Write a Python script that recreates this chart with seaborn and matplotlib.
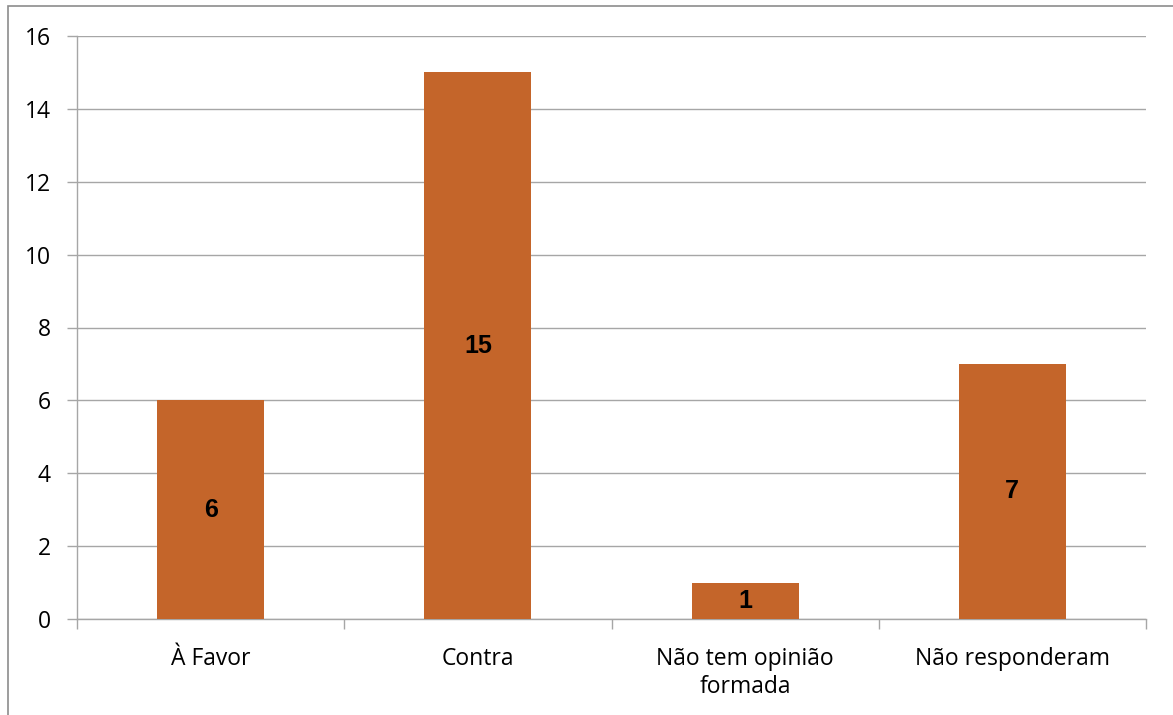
import matplotlib
matplotlib.use("Agg")
import matplotlib.pyplot as plt
import seaborn as sns
import pandas as pd
from matplotlib.patches import Rectangle

categories = ["À Favor", "Contra", "Não tem opinião\nformada", "Não responderam"]
values = [6, 15, 1, 7]
yticks = [0, 2, 4, 6, 8, 10, 12, 14, 16]

sns.set_theme(style="white")
plt.rcParams['font.family'] = ['Open Sans', 'DejaVu Sans']

df = pd.DataFrame({"cat": categories, "val": values})

fig = plt.figure(figsize=(11.73, 7.15), dpi=100)
ax = fig.add_axes([77/1173, 1 - 619/715, (1146-77)/1173, (619-36)/715])

grid_c = "#A6A6A6"
sns.barplot(data=df, x="cat", y="val", color="#C4652A", saturation=1, width=0.4, ax=ax, zorder=3)
for p in ax.patches:
    p.set_edgecolor("none")

ax.set_ylim(0, 16)
ax.set_xlim(-0.5, len(categories) - 0.5)
ax.set_yticks(yticks)
ax.set_yticklabels([str(t) for t in yticks])
ax.yaxis.grid(True, color=grid_c, linewidth=1, zorder=0)
ax.set_axisbelow(True)
ax.set_xlabel("")
ax.set_ylabel("")

for s in ["top", "right"]:
    ax.spines[s].set_visible(False)
for s in ["left", "bottom"]:
    ax.spines[s].set_color(grid_c)
    ax.spines[s].set_linewidth(1)

ax.tick_params(axis="y", length=7, width=1, color=grid_c, left=True, labelsize=16.5, pad=12, labelcolor="black")
ax.tick_params(axis="x", length=0, labelsize=16.5, pad=20, labelcolor="black")
for lbl in ax.get_xticklabels():
    lbl.set_linespacing(1.25)
# category boundary ticks
ax.set_xticks([i - 0.5 for i in range(len(categories) + 1)], minor=True)
ax.tick_params(axis="x", which="minor", length=7, width=1, color=grid_c, bottom=True)

for i, v in enumerate(values):
    ax.text(i, v / 2, str(v), ha="center", va="center", fontsize=18,
            fontweight="bold", family=["Liberation Sans", "DejaVu Sans"], color="black", zorder=4)

# outer chart border (partially visible)
fig.patches.append(Rectangle((8/1173, -0.1), 1.2, (1 - 6/715) + 0.1, transform=fig.transFigure,
                             fill=False, edgecolor="#8C8C8C", linewidth=1.2))

fig.savefig("out.png", dpi=100)
